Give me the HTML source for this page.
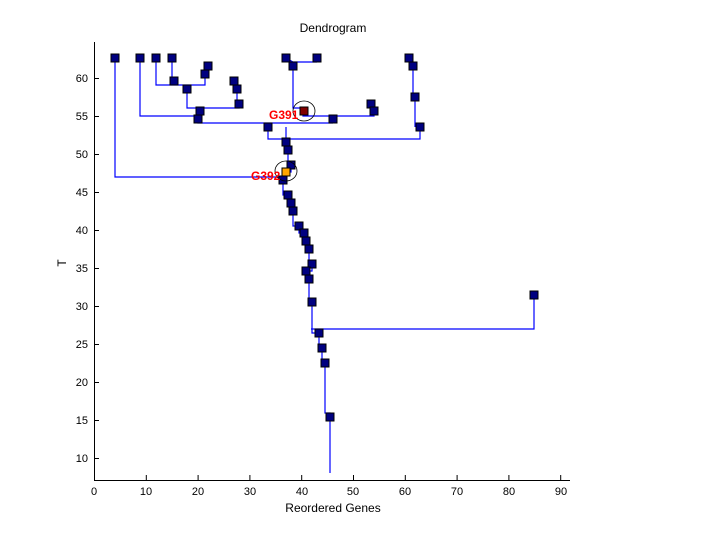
<!DOCTYPE html>
<html><head><meta charset="utf-8"><style>body{margin:0;background:#fff}svg{display:block}text{font-family:"Liberation Sans",sans-serif}</style></head><body>
<svg width="720" height="540" xmlns="http://www.w3.org/2000/svg">
<rect width="720" height="540" fill="#fff"/>
<text x="333" y="32" font-size="12" text-anchor="middle">Dendrogram</text>
<text x="333" y="512" font-size="12" text-anchor="middle">Reordered Genes</text>
<text x="66" y="263" font-size="12" text-anchor="middle" transform="rotate(-90 66 263)">T</text>
<g stroke="#000" stroke-width="1" fill="none">
<path d="M94.5 42V480.5H570"/>
<path d="M94.5 480v-5M146.3 480v-5M198.1 480v-5M249.9 480v-5M301.7 480v-5M353.5 480v-5M405.3 480v-5M457.1 480v-5M508.9 480v-5M560.7 480v-5"/>
<path d="M94 458.5h5M94 420.5h5M94 382.5h5M94 344.5h5M94 306.5h5M94 268.5h5M94 230.5h5M94 192.5h5M94 154.5h5M94 116.5h5M94 78.5h5"/>
</g>
<g font-size="11" text-anchor="middle">
<text x="94" y="495">0</text><text x="146" y="495">10</text><text x="198" y="495">20</text><text x="250" y="495">30</text><text x="302" y="495">40</text><text x="353" y="495">50</text><text x="405" y="495">60</text><text x="457" y="495">70</text><text x="509" y="495">80</text><text x="561" y="495">90</text>
</g>
<g font-size="11" text-anchor="end">
<text x="88" y="462">10</text><text x="88" y="424">15</text><text x="88" y="386">20</text><text x="88" y="348">25</text><text x="88" y="310">30</text><text x="88" y="272">35</text><text x="88" y="234">40</text><text x="88" y="196">45</text><text x="88" y="158">50</text><text x="88" y="120">55</text><text x="88" y="82">60</text>
</g>
<g stroke="#0000ff" stroke-width="1.2" fill="none">
<path d="M115 58V177H283"/>
<path d="M140 58V116H200V108"/>
<path d="M156 58V85H205V74"/><path d="M172 58V81"/><path d="M205 74L208 66"/>
<path d="M187 89V108H239V104"/><path d="M237 89V104"/><path d="M234 81L237 89"/>
<path d="M198 119V123H333"/><path d="M200 111V116"/>
<path d="M268 127V139H420V127"/><path d="M415 97V127"/><path d="M413 66V97"/><path d="M410 58L413 66"/>
<path d="M293 62H317M286 58L293 62M293 66V108H303V116H374V111"/><path d="M371 104L374 111"/>
<path d="M311 329H534V295"/>
<path d="M286 127V142M286 142V150H288V165H291V172H286V180H283V195H288V203H291V211H293V226H299V233H304V241H306V249H309V264H312V271H306V279H309V302H312V329H312V333H319V348H322V363H325V413H330V473"/>
</g>
<g fill="#000080" stroke="#000" stroke-width="1">
<rect x="111" y="54" width="8" height="8"/><rect x="136" y="54" width="8" height="8"/><rect x="152" y="54" width="8" height="8"/><rect x="168" y="54" width="8" height="8"/><rect x="282" y="54" width="8" height="8"/><rect x="313" y="54" width="8" height="8"/><rect x="405" y="54" width="8" height="8"/>
<rect x="204" y="62" width="8" height="8"/><rect x="201" y="70" width="8" height="8"/><rect x="170" y="77" width="8" height="8"/><rect x="183" y="85" width="8" height="8"/><rect x="230" y="77" width="8" height="8"/><rect x="233" y="85" width="8" height="8"/><rect x="235" y="100" width="8" height="8"/><rect x="196" y="107" width="8" height="8"/><rect x="194" y="115" width="8" height="8"/><rect x="264" y="123" width="8" height="8"/>
<rect x="289" y="62" width="8" height="8"/><rect x="329" y="115" width="8" height="8"/><rect x="367" y="100" width="8" height="8"/><rect x="370" y="107" width="8" height="8"/><rect x="409" y="62" width="8" height="8"/><rect x="411" y="93" width="8" height="8"/><rect x="416" y="123" width="8" height="8"/>
<rect x="282" y="138" width="8" height="8"/><rect x="284" y="146" width="8" height="8"/><rect x="287" y="161" width="8" height="8"/><rect x="279" y="176" width="8" height="8"/><rect x="284" y="191" width="8" height="8"/><rect x="287" y="199" width="8" height="8"/><rect x="289" y="207" width="8" height="8"/><rect x="295" y="222" width="8" height="8"/><rect x="300" y="229" width="8" height="8"/><rect x="302" y="237" width="8" height="8"/><rect x="305" y="245" width="8" height="8"/><rect x="308" y="260" width="8" height="8"/><rect x="302" y="267" width="8" height="8"/><rect x="305" y="275" width="8" height="8"/><rect x="308" y="298" width="8" height="8"/><rect x="315" y="329" width="8" height="8"/><rect x="318" y="344" width="8" height="8"/><rect x="321" y="359" width="8" height="8"/><rect x="326" y="413" width="8" height="8"/><rect x="530" y="291" width="8" height="8"/>
</g>
<rect x="300" y="107" width="8" height="8" fill="#800000" stroke="#000"/>
<rect x="282" y="168" width="8" height="8" fill="#ffa500" stroke="#000"/>
<ellipse cx="304" cy="111" rx="11" ry="10" fill="none" stroke="#000" stroke-width="0.8"/>
<ellipse cx="286" cy="171" rx="11" ry="10" fill="none" stroke="#000" stroke-width="0.8"/>
<text x="269" y="119" font-size="12" font-weight="bold" fill="#ff0000">G391</text>
<text x="251" y="180" font-size="12" font-weight="bold" fill="#ff0000">G392</text>
</svg>
</body></html>
